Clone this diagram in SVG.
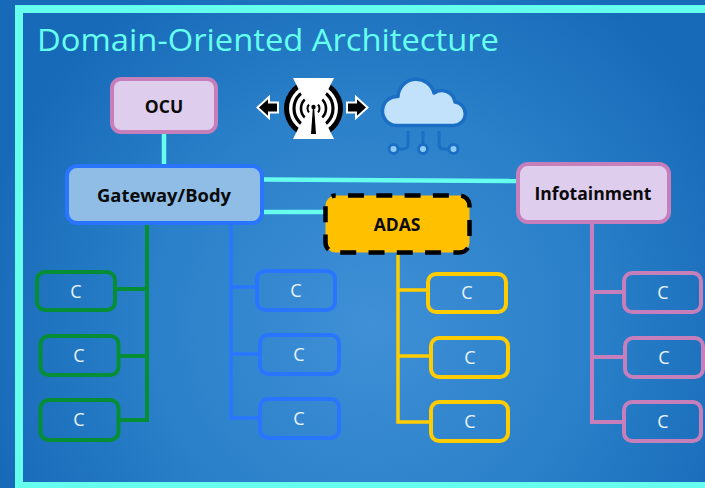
<svg xmlns="http://www.w3.org/2000/svg" width="705" height="488" viewBox="0 0 705 488">
<style>
.t{font-family:"Open Sans","Noto Sans","Liberation Sans",sans-serif}
.title{font-size:31px;fill:#66ffee}
.b{font-size:17.500px;font-weight:700;fill:#0a0a0a;text-anchor:middle}
.c{font-size:18px;fill:#eaf4ff;text-anchor:middle}
.box{stroke-width:4}
.g{fill:none;stroke:#068e36}.bl{fill:none;stroke:#2a75ff}.y{fill:none;stroke:#ffcc00}.p{fill:none;stroke:#c67fbb}
.wire{fill:none;stroke-width:4}
.cy{fill:none;stroke:#66ffee;stroke-width:4.500}
</style>
<defs>
<radialGradient id="bg" gradientUnits="userSpaceOnUse" cx="370" cy="325" r="400">
<stop offset="0" stop-color="#3f90d6"/><stop offset="0.55" stop-color="#2a80c9"/><stop offset="1" stop-color="#176ab8"/>
</radialGradient>
</defs>
<rect width="705" height="488" fill="url(#bg)"/>
<rect x="19" y="9" width="700" height="477" fill="none" stroke="#66ffee" stroke-width="8"/>
<text class="t title" x="37" y="51" textLength="462" lengthAdjust="spacingAndGlyphs">Domain-Oriented Architecture</text>
<g id="connectors">
<path class="cy" d="M164 134V164"/>
<path class="cy" d="M264 179.500L516 181"/>
<path class="cy" d="M264 212H325"/>
<path class="wire g" d="M147 225V420H118M117 289H147M120 356H147"/>
<path class="wire bl" style="stroke-width:3.500" d="M231 225V418H259M231 287H256M231 354H259"/>
<path class="wire y" style="stroke-width:3.500" d="M398 255V422H429M398 290H427M398 356H429"/>
<path class="wire p" d="M592 224V422H622M592 292H622M592 357H624"/>
</g>
<g id="ocu"><rect class="box" x="112" y="79" width="104" height="53" rx="9" fill="#dfcdee" stroke="#c67fbb"/><text class="t b" x="164" y="113">OCU</text></g>
<g id="gateway"><rect class="box" x="67" y="166" width="195" height="57" rx="10" fill="#8fbde6" stroke="#2a75ff"/><text class="t b" x="164" y="202" textLength="134" lengthAdjust="spacingAndGlyphs">Gateway/Body</text></g>
<g id="adas"><rect x="325.500" y="195.500" width="144" height="57" rx="10" fill="#ffc000" stroke="#000" stroke-width="4.500" stroke-dasharray="16 12.300" stroke-dashoffset="-12.500"/><text class="t b" x="397" y="231">ADAS</text></g>
<g id="infotainment"><rect class="box" x="518" y="164" width="151" height="58" rx="10" fill="#dfcdee" stroke="#c67fbb"/><text class="t b" x="593" y="200" textLength="117" lengthAdjust="spacingAndGlyphs">Infotainment</text></g>
<g id="green-c1"><rect class="box g" x="37" y="272" width="78" height="38" rx="8"/><text class="t c" x="76" y="298">C</text></g>
<g id="green-c2"><rect class="box g" x="40.500" y="336" width="78" height="39" rx="8"/><text class="t c" x="79" y="362">C</text></g>
<g id="green-c3"><rect class="box g" x="40.500" y="400" width="78" height="40" rx="8"/><text class="t c" x="79" y="426">C</text></g>
<g id="blue-c1"><rect class="box bl" x="257" y="271" width="78" height="39" rx="8"/><text class="t c" x="296" y="297">C</text></g>
<g id="blue-c2"><rect class="box bl" x="260" y="335" width="79" height="39" rx="8"/><text class="t c" x="299" y="361">C</text></g>
<g id="blue-c3"><rect class="box bl" x="260" y="399" width="79" height="39" rx="8"/><text class="t c" x="299" y="425">C</text></g>
<g id="yellow-c1"><rect class="box y" x="428" y="274" width="78" height="38" rx="8"/><text class="t c" x="467" y="299">C</text></g>
<g id="yellow-c2"><rect class="box y" x="431" y="338" width="77" height="39" rx="8"/><text class="t c" x="470" y="364">C</text></g>
<g id="yellow-c3"><rect class="box y" x="431" y="402" width="77" height="39" rx="8"/><text class="t c" x="470" y="428">C</text></g>
<g id="pink-c1"><rect class="box p" x="624" y="273" width="77" height="39" rx="8"/><text class="t c" x="663" y="299">C</text></g>
<g id="pink-c2"><rect class="box p" x="625" y="338" width="78" height="39" rx="8"/><text class="t c" x="664" y="364">C</text></g>
<g id="pink-c3"><rect class="box p" x="624" y="402" width="77" height="39" rx="8"/><text class="t c" x="663" y="428">C</text></g>
<g id="antenna">
<circle cx="313.500" cy="108.500" r="29.500" fill="#000"/>
<circle cx="313.500" cy="108.500" r="24.500" fill="#fff"/>
<g fill="none" stroke="#000">
<circle cx="313.500" cy="108.500" r="19.500" stroke-width="3.200"/><circle cx="313.500" cy="108.500" r="12.500" stroke-width="2.600"/><circle cx="313.500" cy="108.500" r="6" stroke-width="2"/>
</g>
<polygon points="293,78 334,78 327,92 322,100 317.700,105 313.500,107.500 309.300,105 305,100 300,92" fill="#fff"/>
<polygon points="293,139 334,139 327,125 322,117 317.700,112 313.500,109.500 309.300,112 305,117 300,125" fill="#fff"/>
<polygon points="313,106 314,106 316,134 311,134" fill="#000"/>
<circle cx="313.500" cy="107" r="2.200" fill="#000"/>
<polygon points="257.500,107.500 269,97 269,102.500 278,102.500 278,112.500 269,112.500 269,118" fill="#000" stroke="#fff" stroke-width="2"/>
<polygon points="367.500,107.500 356,97 356,102.500 347,102.500 347,112.500 356,112.500 356,118" fill="#000" stroke="#fff" stroke-width="2"/>
</g>
<g id="cloud">
<path d="M396 125.500A14.500 14.500 0 0 1 398 96.500A18.300 18.300 0 0 1 434 93A13.500 13.500 0 0 1 455 102A11.800 11.800 0 0 1 454 125.500Z" fill="#c2e2fb" stroke="#1a6fc4" stroke-width="3.500" stroke-linejoin="round"/>
<g fill="none" stroke="#1a6fc4" stroke-width="3">
<path d="M408 131V144Q408 149 403 149H397"/><path d="M423 131V145"/><path d="M439 131V144Q439 149 444 149H450"/>
</g>
<g fill="#8fccf5" stroke="#1a6fc4" stroke-width="3">
<circle cx="393.500" cy="149" r="4.500"/><circle cx="423" cy="149" r="4.500"/><circle cx="453.500" cy="149" r="4.500"/>
</g>
</g>
</svg>
